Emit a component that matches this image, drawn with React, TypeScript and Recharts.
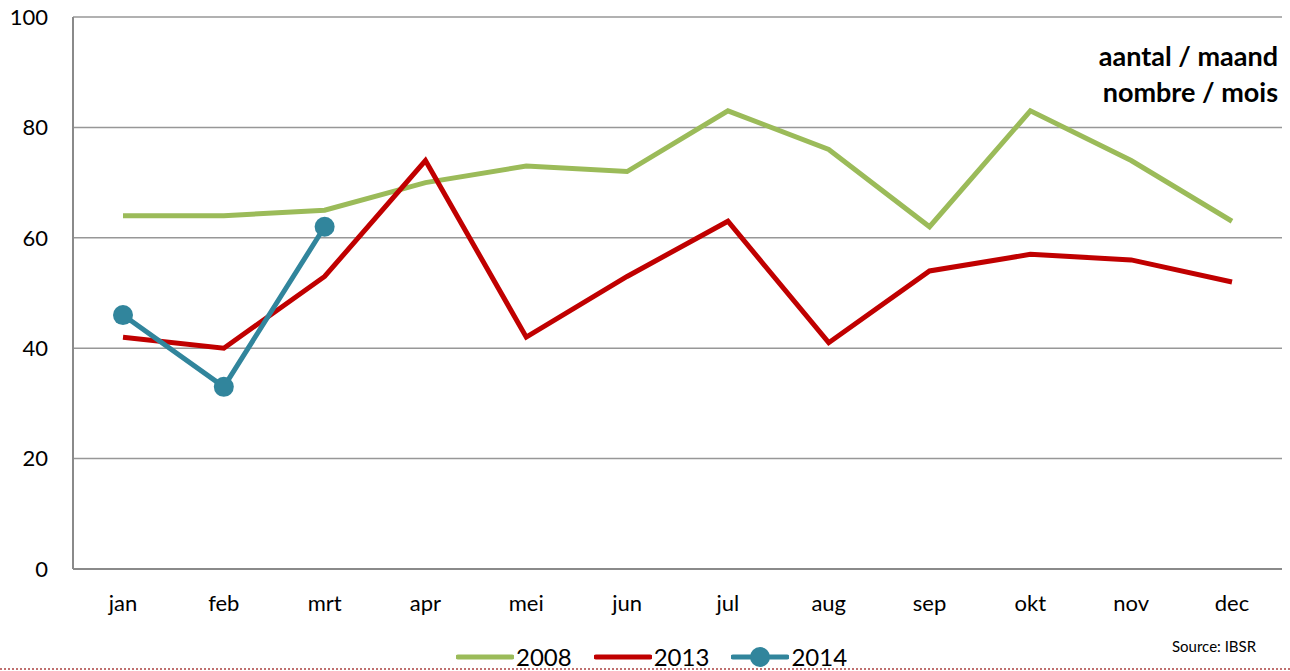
import React from 'react';
import { LineChart, Line, XAxis, YAxis, CartesianGrid } from 'recharts';

const months = ['jan', 'feb', 'mrt', 'apr', 'mei', 'jun', 'jul', 'aug', 'sep', 'okt', 'nov', 'dec'];
const values2008 = [64, 64, 65, 70, 73, 72, 83, 76, 62, 83, 74, 63];
const values2013 = [42, 40, 53, 74, 42, 53, 63, 41, 54, 57, 56, 52];
const values2014 = [46, 33, 62];
const yTicks = [0, 20, 40, 60, 80, 100];

const series = [
  { key: 's2008', name: '2008', color: '#9BBB59', dot: false },
  { key: 's2013', name: '2013', color: '#C00000', dot: false },
  { key: 's2014', name: '2014', color: '#31859C', dot: true },
];

const data = months.map((m, i) => ({
  month: m,
  s2008: values2008[i],
  s2013: values2013[i],
  s2014: i < values2014.length ? values2014[i] : null,
}));

const FONT = 'Lato, "Open Sans", sans-serif';

export default function App() {
  return (
    <div style={{ position: 'absolute', left: 0, top: 0, width: 1290, height: 671, background: '#fff', fontFamily: FONT }}>
      <LineChart width={1290} height={671} data={data} margin={{ top: 17, right: 8, left: 0, bottom: 0 }}>
        <CartesianGrid vertical={false} stroke="#979797" strokeWidth={1.5} />
        <XAxis
          dataKey="month"
          height={102}
          padding={{ left: 50, right: 50 }}
          tickLine={false}
          tickSize={0}
          tickMargin={26}
          axisLine={{ stroke: '#8a8a8a', strokeWidth: 2 }}
          tick={{ fill: '#000', fontSize: 22, fontFamily: FONT }}
        />
        <YAxis
          width={73}
          domain={[0, 100]}
          ticks={yTicks}
          tickLine={false}
          tickSize={0}
          tickMargin={25}
          axisLine={{ stroke: '#8a8a8a', strokeWidth: 2 }}
          tick={{ fill: '#000', fontSize: 22, fontFamily: FONT }}
        />
        {series.map((s) => (
          <Line
            key={s.key}
            dataKey={s.key}
            name={s.name}
            type="linear"
            stroke={s.color}
            strokeWidth={5}
            dot={s.dot ? { r: 10, fill: s.color, stroke: s.color, strokeWidth: 0 } : false}
            activeDot={false}
            isAnimationActive={false}
            connectNulls={false}
          />
        ))}
      </LineChart>

      <div style={{ position: 'absolute', right: 12, top: 38, textAlign: 'right', fontWeight: 'bold', fontSize: 27, lineHeight: '36px', color: '#000' }}>
        <div>aantal / maand</div>
        <div>nombre / mois</div>
      </div>

      <div style={{ position: 'absolute', left: 456, top: 642, display: 'flex', alignItems: 'center', fontSize: 24, lineHeight: '30px' }}>
        {series.map((s) => (
          <div key={s.key} style={{ display: 'flex', alignItems: 'center', marginRight: 22 }}>
            <svg width={58} height={24} style={{ marginRight: 2 }}>
              <line x1={2} y1={12} x2={56} y2={12} stroke={s.color} strokeWidth={5} strokeLinecap="round" />
              {s.dot && <circle cx={29} cy={12} r={10} fill={s.color} />}
            </svg>
            <span>{s.name}</span>
          </div>
        ))}
      </div>

      <div style={{ position: 'absolute', left: 1172, top: 637, fontSize: 15 }}>Source: IBSR</div>

      <div style={{ position: 'absolute', left: 0, top: 668, width: 1290, borderTop: '2px dotted #c07070' }} />
    </div>
  );
}
